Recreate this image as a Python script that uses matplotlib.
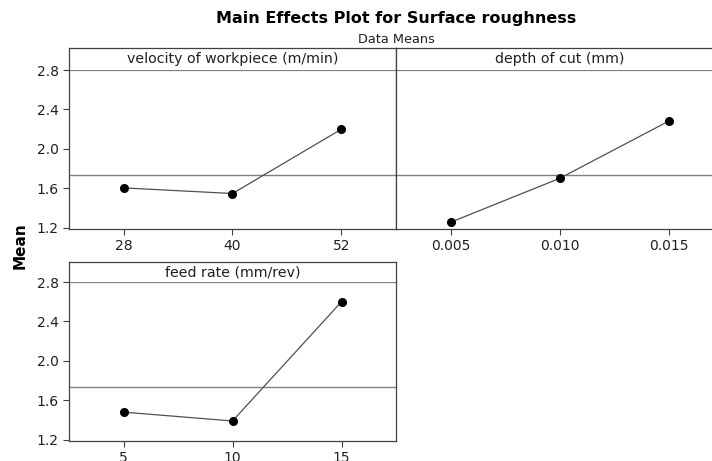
import matplotlib
matplotlib.use('Agg')
import matplotlib.pyplot as plt

# Data
velocity_levels = [28, 40, 52]
velocity_means = [1.604, 1.547, 2.20]

depth_levels = [0.005, 0.010, 0.015]
depth_means = [1.255, 1.70, 2.28]

feed_levels = [5, 10, 15]
feed_means = [1.48, 1.39, 2.60]

grand_mean = 1.735
y_ticks = [1.2, 1.6, 2.0, 2.4, 2.8]

panels = [
    ('velocity of workpiece (m/min)', velocity_levels, velocity_means, ['28', '40', '52']),
    ('depth of cut (mm)', depth_levels, depth_means, ['0.005', '0.010', '0.015']),
    ('feed rate (mm/rev)', feed_levels, feed_means, ['5', '10', '15']),
]

W, H = 712, 461
plt.rcParams['font.family'] = ['DejaVu Sans']
fig = plt.figure(figsize=(W / 100, H / 100), dpi=100)

edge = '#404040'

# pixel boxes (left, top of header, header bottom, bottom of data)
boxes = [
    (69, 48, 70, 229),
    (396, 48, 70, 229),
    (69, 262, 282, 441),
]
panel_w = 327

for (name, levels, means, labels), (x0, y_head, y_top, y_bot) in zip(panels, boxes):
    ax = fig.add_axes([x0 / W, 1 - y_bot / H, panel_w / W, (y_bot - y_top) / H])
    step = levels[1] - levels[0]
    ax.set_xlim(levels[0] - step / 2, levels[-1] + step / 2)
    ax.set_ylim(1.187, 2.8)
    ax.axhline(grand_mean, color='#808080', linewidth=1.0, zorder=1)
    ax.plot(levels, means, color='#505050', linewidth=0.9, zorder=2)
    ax.plot(levels, means, 'o', color='black', markersize=5.5, zorder=3)
    ax.set_xticks(levels)
    ax.set_xticklabels(labels)
    if x0 == 69:
        ax.set_yticks(y_ticks)
        ax.set_yticklabels([f'{v:.1f}' for v in y_ticks])
    else:
        ax.set_yticks([])
    ax.tick_params(direction='out', length=4.5, width=0.8, colors=edge, labelcolor='#202020',
                   labelsize=10, pad=3)
    for s in ax.spines.values():
        s.set_color(edge)
        s.set_linewidth(0.9)
    ax.spines['top'].set_color('#808080')

    hax = fig.add_axes([x0 / W, 1 - y_top / H, panel_w / W, (y_top - y_head) / H])
    hax.set_xticks([])
    hax.set_yticks([])
    for s in hax.spines.values():
        s.set_color(edge)
        s.set_linewidth(0.9)
    hax.spines['bottom'].set_visible(False)
    hax.text(0.5, 0.5, name, ha='center', va='center', fontsize=10.2, color='#202020',
             transform=hax.transAxes)

fig.text(396 / W, 1 - 18 / H, 'Main Effects Plot for Surface roughness', ha='center', va='center',
         fontsize=11.5, fontweight='bold')
fig.text(396 / W, 1 - 39 / H, 'Data Means', ha='center', va='center', fontsize=9.3, color='#202020')
fig.text(20 / W, 1 - 246 / H, 'Mean', ha='center', va='center', rotation=90,
         fontsize=11, fontweight='bold')

fig.savefig('out.png', dpi=100)
